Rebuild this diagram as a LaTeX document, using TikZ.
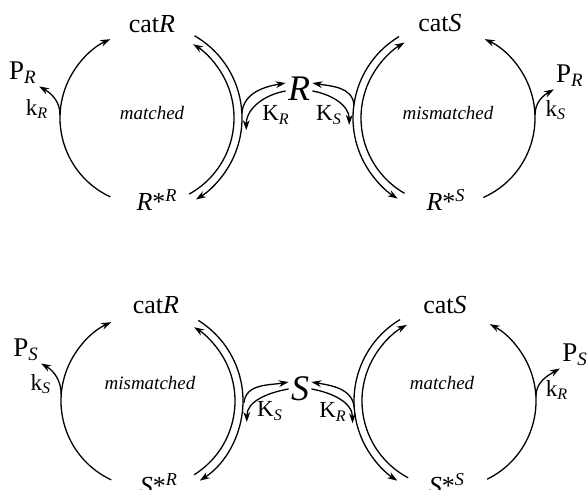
\documentclass[tikz,border=0pt]{standalone}
\usepackage{fontspec}
\setmainfont{Liberation Serif}
\usetikzlibrary{arrows.meta}

\begin{document}
\begin{tikzpicture}[
    x=0.5pt, y=0.5pt,
    >={Stealth[length=5pt, width=3.4pt]},
    conv/.style={->, line width=0.65pt},
    spec/.style={inner sep=1pt, font=\fontsize{13}{15}\selectfont},
    cplx/.style={inner sep=1pt, font=\fontsize{13}{15}\selectfont},
    lig/.style={inner sep=1pt, font=\fontsize{18}{21}\selectfont\itshape},
    prod/.style={inner sep=1pt, font=\fontsize{13.5}{15}\selectfont},
    rate/.style={inner sep=1pt, font=\fontsize{11.5}{13}\selectfont},
    tag/.style={inner sep=1pt, font=\fontsize{9.5}{11}\selectfont\itshape}
]
  \path[use as bounding box, clip] (0,0) rectangle (587,490);

  % Cycle centres
  \coordinate (cRR) at (147,372);
  \coordinate (cRS) at (448,372);
  \coordinate (cSR) at (148,89);
  \coordinate (cSS) at (449,89);

  % Ligands
  \node[lig] (R) at (299,401) {R};
  \node[lig] (S) at (300,101) {S};

  % Top left: R on catR
  \node[spec] (catRR) at (152,466) {cat\textit{R}};
  \node[cplx] (cplxRR) at (157,290) {\textit{R}*\textsuperscript{\textit{R}}};
  \node[tag] (tagRR) at (152,377) {matched};
  \node[prod] (prodRR) at (23,417) {P\textsubscript{\textit{R}}};
  \node[rate] (kRR) at (37,381) {k\textsubscript{\textit{R}}};
  \node[rate] (KRR) at (276,375) {K\textsubscript{\textit{R}}};

  \draw[conv] ([shift={(245:87)}]cRR) arc[start angle=245, end angle=115, radius=87];
  \draw[conv] ([shift={(-61:87)}]cRR) arc[start angle=-61, end angle=58, radius=87];
  \draw[conv] ([shift={(60:95)}]cRR) arc[start angle=60, end angle=-59, radius=95];
  \draw[conv] ([shift={(178:87)}]cRR) to[out=90, in=-30] (prodRR.south east);
  \draw[conv] ([shift={(3:95)}]cRR) to[out=85, in=190] ([yshift=3pt]R.west);
  \draw[conv] ([yshift=-1pt]R.west) to[out=190, in=90] ([shift={(-7:100)}]cRR);

  % Top right: R on catS
  \node[spec] (catRS) at (440,467) {cat\textit{S}};
  \node[cplx] (cplxRS) at (446,290) {\textit{R}*\textsuperscript{\textit{S}}};
  \node[tag] (tagRS) at (448,377) {mismatched};
  \node[prod] (prodRS) at (570,414) {P\textsubscript{\textit{R}}};
  \node[rate] (kRS) at (556,380) {k\textsubscript{\textit{S}}};
  \node[rate] (KRS) at (329,375) {K\textsubscript{\textit{S}}};

  \draw[conv] ([shift={(-66:87)}]cRS) arc[start angle=-66, end angle=65, radius=87];
  \draw[conv] ([shift={(240:87)}]cRS) arc[start angle=240, end angle=120, radius=87];
  \draw[conv] ([shift={(121:95)}]cRS) arc[start angle=121, end angle=238, radius=95];
  \draw[conv] ([shift={(2:87)}]cRS) to[out=90, in=210] (prodRS.south west);
  \draw[conv] ([shift={(172:95)}]cRS) to[out=95, in=-10] ([yshift=3pt]R.east);
  \draw[conv] ([yshift=-1pt]R.east) to[out=-10, in=90] ([shift={(184:99)}]cRS);

  % Bottom left: S on catR
  \node[spec] (catSR) at (156,185) {cat\textit{R}};
  \node[cplx] (cplxSR) at (159,6) {\textit{S}*\textsuperscript{\textit{R}}};
  \node[tag] (tagSR) at (150,107) {mismatched};
  \node[prod] (prodSR) at (26,140) {P\textsubscript{\textit{S}}};
  \node[rate] (kSR) at (41,106) {k\textsubscript{\textit{S}}};
  \node[rate] (KSR) at (270,79) {K\textsubscript{\textit{S}}};

  \draw[conv] ([shift={(245:87)}]cSR) arc[start angle=245, end angle=115, radius=87];
  \draw[conv] ([shift={(-58:87)}]cSR) arc[start angle=-58, end angle=58, radius=87];
  \draw[conv] ([shift={(58:95)}]cSR) arc[start angle=58, end angle=-57, radius=95];
  \draw[conv] ([shift={(176:87)}]cSR) to[out=90, in=-30] (prodSR.south east);
  \draw[conv] ([shift={(-1:96)}]cSR) to[out=85, in=190] ([yshift=3.5pt]S.west);
  \draw[conv] (S.west) to[out=190, in=90] ([shift={(-12:101)}]cSR);

  % Bottom right: S on catS
  \node[spec] (catSS) at (445,185) {cat\textit{S}};
  \node[cplx] (cplxSS) at (447,6) {\textit{S}*\textsuperscript{\textit{S}}};
  \node[tag] (tagSS) at (442,107) {matched};
  \node[prod] (prodSS) at (575,135) {P\textsubscript{\textit{S}}};
  \node[rate] (kSS) at (557,100) {k\textsubscript{\textit{R}}};
  \node[rate] (KSS) at (333,78) {K\textsubscript{\textit{R}}};

  \draw[conv] ([shift={(-64:87)}]cSS) arc[start angle=-64, end angle=62, radius=87];
  \draw[conv] ([shift={(242:87)}]cSS) arc[start angle=242, end angle=119, radius=87];
  \draw[conv] ([shift={(121:95)}]cSS) arc[start angle=121, end angle=237, radius=95];
  \draw[conv] ([shift={(3:87)}]cSS) to[out=90, in=210] (prodSS.south west);
  \draw[conv] ([shift={(184:95)}]cSS) to[out=95, in=-10] ([yshift=3.5pt]S.east);
  \draw[conv] (S.east) to[out=-10, in=90] ([shift={(193:99)}]cSS);
\end{tikzpicture}
\end{document}
